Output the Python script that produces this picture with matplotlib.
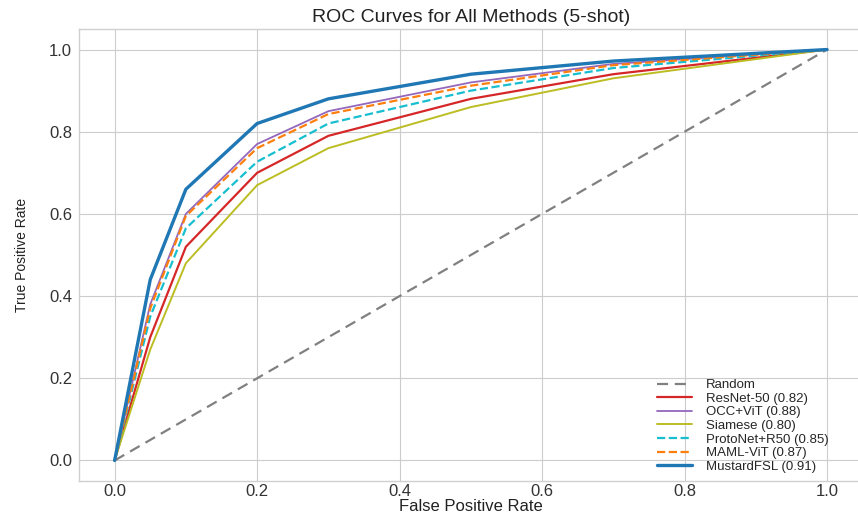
import matplotlib
matplotlib.use("Agg")
import matplotlib.pyplot as plt

plt.style.use("seaborn-v0_8-whitegrid")
plt.rcParams['font.family'] = ['Liberation Sans', 'DejaVu Sans']

fpr = [0.0, 0.05, 0.1, 0.2, 0.3, 0.5, 0.7, 1.0]

methods = ["ResNet-50", "OCC+ViT", "Siamese", "ProtoNet+R50", "MAML-ViT", "MustardFSL"]
aucs = [0.82, 0.88, 0.80, 0.85, 0.87, 0.91]
tpr_resnet = [0.0, 0.30, 0.52, 0.70, 0.79, 0.88, 0.94, 1.0]
tpr_occ = [0.0, 0.38, 0.60, 0.77, 0.85, 0.92, 0.965, 1.0]
tpr_siamese = [0.0, 0.27, 0.48, 0.67, 0.76, 0.86, 0.93, 1.0]
tpr_proto = [0.0, 0.35, 0.565, 0.727, 0.82, 0.90, 0.955, 1.0]
tpr_maml = [0.0, 0.37, 0.595, 0.76, 0.843, 0.912, 0.962, 1.0]
tpr_mustard = [0.0, 0.44, 0.66, 0.82, 0.88, 0.94, 0.972, 1.0]
random_line = [0.0, 1.0]

series = [tpr_resnet, tpr_occ, tpr_siamese, tpr_proto, tpr_maml, tpr_mustard]
colors = ["#d62728", "#9467bd", "#bcbd22", "#17becf", "#ff7f0e", "#1f77b4"]
styles = ["-", "-", "-", "--", "--", "-"]
widths = [1.6, 1.3, 1.4, 1.6, 1.6, 2.4]

fig = plt.figure(figsize=(8.58, 5.18), dpi=100)
ax = fig.add_axes([79/858, 37/518, (862.7-79)/858, (481-29)/518])

ax.plot(random_line, random_line, linestyle="--", color="gray", lw=1.6, label="Random", dashes=(5, 3))
for name, auc, tpr, c, ls, lw in zip(methods, aucs, series, colors, styles, widths):
    ax.plot(fpr, tpr, linestyle=ls, color=c, lw=lw, label=f"{name} ({auc:.2f})")

ax.set_xlim(-0.05, 1.05)
ax.set_ylim(-0.05, 1.05)
ax.set_xticks([0.0, 0.2, 0.4, 0.6, 0.8, 1.0])
ax.set_yticks([0.0, 0.2, 0.4, 0.6, 0.8, 1.0])
ax.tick_params(axis="y", labelsize=12, colors="#333333", pad=5)
ax.tick_params(axis="x", labelsize=12, colors="#333333", pad=2)
for sp in ax.spines.values():
    sp.set_color("#d0d0d0")
ax.set_xlabel("False Positive Rate", fontsize=12, color="#222222", labelpad=0)
ax.set_ylabel("True Positive Rate", fontsize=10, color="#222222", labelpad=14)
ax.set_title("ROC Curves for All Methods (5-shot)", fontsize=14, color="#222222", pad=5)

leg = ax.legend(loc="lower right", bbox_to_anchor=(834/858, 40/518), bbox_transform=fig.transFigure,
                fontsize=9.5, frameon=False, labelspacing=0.1, handlelength=2.6, handletextpad=1.1,
                borderaxespad=0)

fig.savefig("out.png", dpi=100)
